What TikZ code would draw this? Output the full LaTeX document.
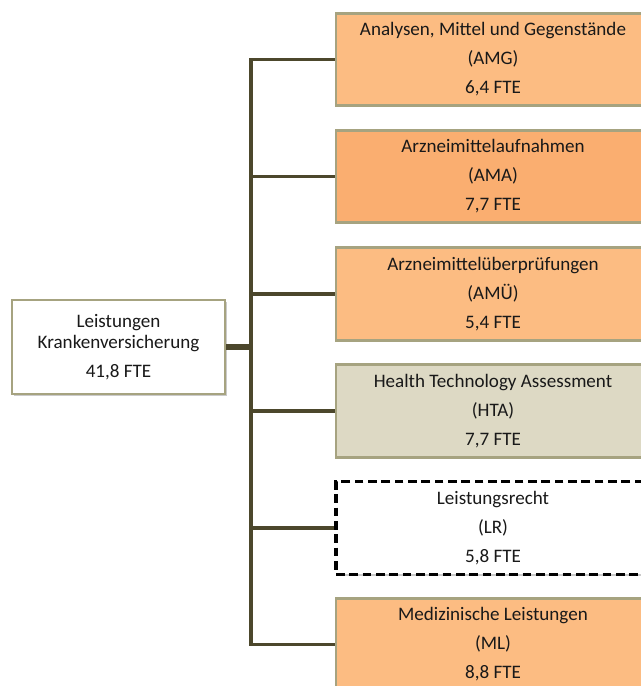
\documentclass[tikz,border=0pt]{standalone}
\usepackage{fontspec}
\setmainfont{Carlito}
\usetikzlibrary{shadows}
\definecolor{orgA}{RGB}{252,188,130}
\definecolor{orgB}{RGB}{250,174,112}
\definecolor{tanC}{RGB}{221,217,196}
\definecolor{bordC}{RGB}{166,163,128}
\definecolor{lineC}{RGB}{76,71,44}
\definecolor{txtC}{RGB}{25,25,25}
\tikzset{
  unitbox/.style={draw=bordC, line width=2.2pt, align=center, text=txtC,
    font=\fontsize{14.3pt}{21.75pt}\selectfont, inner sep=0pt,
    drop shadow={shadow xshift=1.2pt, shadow yshift=-1.2pt, opacity=0.35, fill=black!60}},
  subbox/.style={unitbox, minimum width=235.5pt, minimum height=69.5pt},
  dashbox/.style={subbox, draw=black, fill=white, line width=2.4pt, dash pattern=on 6.5pt off 3.5pt, drop shadow={opacity=0}},
  conn/.style={draw=lineC, line width=2.3pt},
  trunk/.style={draw=lineC, line width=4pt}
}
\begin{document}
\begin{tikzpicture}[x=0.75pt, y=-0.75pt]
\useasboundingbox (0,0) rectangle (640,686);
\node[unitbox, fill=white, minimum width=159.75pt, minimum height=70.5pt] (main) at (118.5,347)
  {Leistungen\\[-6pt]Krankenversicherung\\41,8 FTE};
\node[subbox, fill=orgA] (amg) at (493,59.5) {Analysen, Mittel und Gegenstände\\(AMG)\\6,4 FTE};
\node[subbox, fill=orgB] (ama) at (493,176.5) {Arzneimittelaufnahmen\\(AMA)\\7,7 FTE};
\node[subbox, fill=orgA] (amu) at (493,294) {Arzneimittelüberprüfungen\\(AMÜ)\\5,4 FTE};
\node[subbox, fill=tanC] (hta) at (493,411) {Health Technology Assessment\\(HTA)\\7,7 FTE};
\node[dashbox] (lr) at (493,528) {Leistungsrecht\\(LR)\\5,8 FTE};
\node[subbox, fill=orgA] (ml) at (493,644.5) {Medizinische Leistungen\\(ML)\\8,8 FTE};
\coordinate (bus) at (251,347);
\draw[conn] (amg.west) -| (bus);
\draw[conn] (ama.west) -| (bus);
\draw[conn] (amu.west) -| (bus);
\draw[conn] (hta.west) -| (bus);
\draw[conn] (lr.west) -| (bus);
\draw[conn] (ml.west) -| (bus);
\draw[trunk] (main.east) -- (bus);
\end{tikzpicture}
\end{document}
